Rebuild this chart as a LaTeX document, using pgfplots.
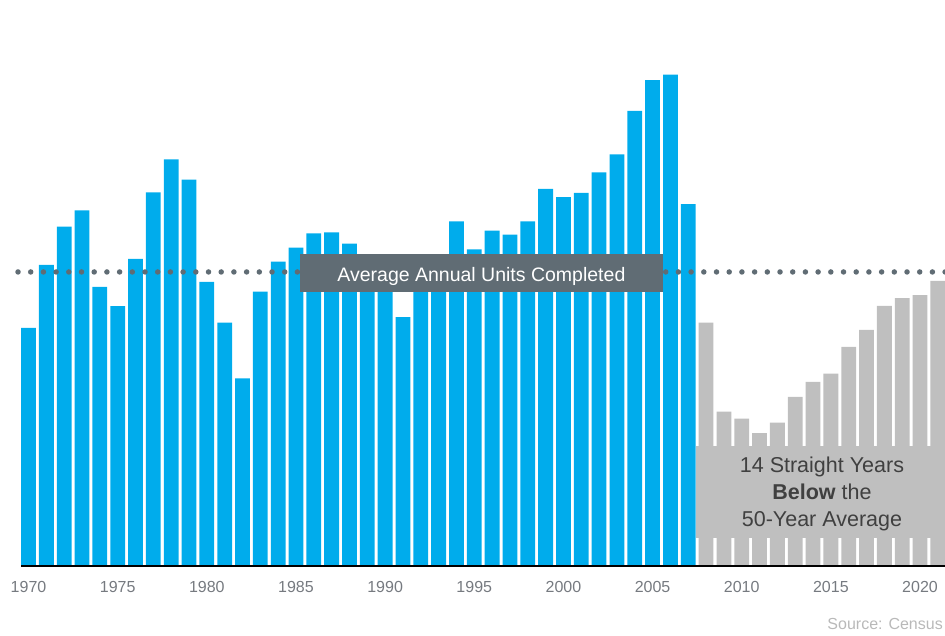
\documentclass[border=0pt]{standalone}
\usepackage{fontspec}
\setmainfont{Liberation Sans}
\usepackage{pgfplots}
\pgfplotsset{compat=1.18}
\definecolor{barblue}{RGB}{0,172,236}
\definecolor{bargray}{RGB}{191,191,191}
\definecolor{slate}{RGB}{96,108,116}
\definecolor{ticktext}{RGB}{118,122,128}
\definecolor{boxtext}{RGB}{64,64,64}
\definecolor{srctext}{RGB}{185,185,185}
\definecolor{baseline}{RGB}{74,88,95}
\begin{document}
\begin{tikzpicture}
\begin{axis}[
 at={(0,0)}, anchor=south west,
 width=945pt, height=566pt, scale only axis,
 xmin=1968.40, xmax=2021.40, ymin=0, ymax=1905.7,
 axis line style={draw=none},
 ytick=\empty,
 xtick={1970,1975,...,2020},
 major tick length=0pt,
 xticklabel style={font=\fontsize{16}{18}\selectfont, text=ticktext, anchor=base, yshift=-27pt},
 /pgf/number format/assume math mode=true,
 /pgf/number format/set thousands separator={},
 clip=false,
]
\addplot[ybar, bar width=0.83, bar shift=0pt, fill=barblue, draw=none] coordinates {
(1970,802) (1971,1014) (1972,1143) (1973,1197) (1974,940) (1975,875)
(1976,1034) (1977,1258) (1978,1369) (1979,1301) (1980,957) (1981,819)
(1982,632) (1983,924) (1984,1025) (1985,1072) (1986,1120) (1987,1123)
(1988,1085) (1989,1026) (1990,966) (1991,838) (1992,964) (1993,1039)
(1994,1160) (1995,1066) (1996,1129) (1997,1116) (1998,1160) (1999,1270)
(2000,1242) (2001,1256) (2002,1325) (2003,1386) (2004,1532) (2005,1636)
(2006,1654) (2007,1218)
};
\addplot[ybar, bar width=0.83, bar shift=0pt, fill=bargray, draw=none] coordinates {
(2008,819) (2009,520) (2010,496) (2011,447) (2012,483) (2013,569)
(2014,620) (2015,648) (2016,738) (2017,795) (2018,876) (2019,902)
(2020,912) (2021,960)
};
% baseline
\draw[baseline, line width=1.5pt] (axis cs:1969.58,0) -- (axis cs:2021.5,0);
% gray overlay box
\fill[bargray] (axis cs:2007.44,94.3) rectangle (axis cs:2021.6,404);
\node[anchor=base, align=center, inner sep=0, text=boxtext,
 font=\fontsize{21.5}{27}\selectfont] at (axis cs:2014.50,132)
 {14 Straight Years\\\textbf{Below} the\\50-Year Average};
% average dotted line
\draw[slate, line width=5.5pt, line cap=round, dash pattern=on 0pt off 12.7pt]
 (axis cs:1969.41,990) -- (axis cs:2021.6,990);
% label box
\fill[slate] (axis cs:1985.23,922.6) rectangle (axis cs:2005.58,1050.5);
\node[anchor=base, inner sep=0, text=white, font=\fontsize{19.5}{22}\selectfont]
 at (axis cs:1995.40,957) {Average Annual Units Completed};
\end{axis}
\node[anchor=base east, inner sep=0, font=\fontsize{16}{18}\selectfont, text=srctext]
 at (943pt,-64pt) {Source: Census};
\pgfresetboundingbox
\useasboundingbox (0,-70pt) rectangle (945pt,566pt);
\end{tikzpicture}
\end{document}
